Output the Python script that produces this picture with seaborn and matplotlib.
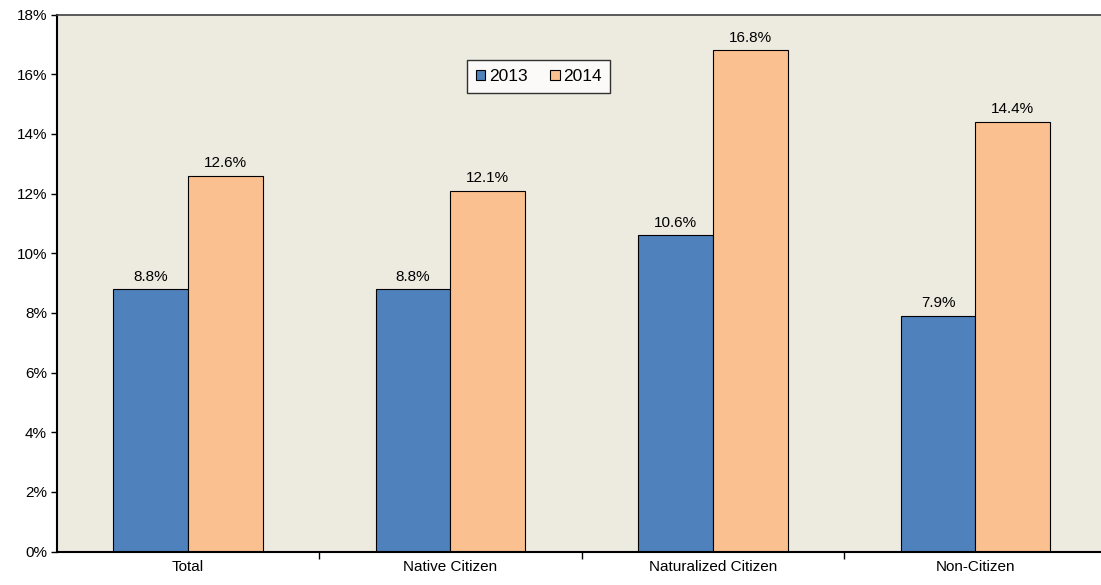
import matplotlib
matplotlib.use("Agg")
import matplotlib.pyplot as plt
import seaborn as sns
import pandas as pd
from matplotlib.ticker import FuncFormatter

# データ
categories = ["Total", "Native Citizen", "Naturalized Citizen", "Non-Citizen"]
years = ["2013", "2014"]
values_2013 = [8.8, 8.8, 10.6, 7.9]
values_2014 = [12.6, 12.1, 16.8, 14.4]

df = pd.DataFrame({
    "category": categories * 2,
    "year": ["2013"] * 4 + ["2014"] * 4,
    "value": values_2013 + values_2014,
})

sns.set_style("ticks")
plt.rcParams["font.family"] = ["Liberation Sans", "DejaVu Sans"]
plt.rcParams["text.color"] = "black"
plt.rcParams["xtick.color"] = "black"
plt.rcParams["ytick.color"] = "black"

fig = plt.figure(figsize=(11.01, 5.85), dpi=100)
# プロット領域は右端で切れている
ax = fig.add_axes([0.0515, 0.057, 0.9537, 0.918])
ax.set_facecolor("#EDEAE0")

sns.barplot(data=df, x="category", y="value", hue="year", hue_order=years,
            palette=["#4F81BD", "#FAC090"], width=0.57, ax=ax,
            edgecolor="black", linewidth=0.8, saturation=1)

for c in ax.containers:
    ax.bar_label(c, fmt="%.1f%%", padding=4, fontsize=11, color="black")

ax.set_ylim(0, 18)
ax.set_yticks(range(0, 19, 2))
ax.yaxis.set_major_formatter(FuncFormatter(lambda v, p: f"{v:.0f}%"))
ax.set_xlim(-0.5, 3.5)
ax.set_xticks([0.5, 1.5, 2.5], minor=False)
ax.set_xticks([0, 1, 2, 3], minor=True)
ax.set_xticklabels([], minor=False)
ax.set_xticklabels(categories, minor=True)
ax.tick_params(axis="x", which="major", length=5, direction="out", width=1)
ax.tick_params(axis="x", which="minor", length=0, labelsize=11, pad=6)
ax.tick_params(axis="y", length=4, direction="out", width=1, labelsize=11, pad=3)
ax.set_xlabel("")
ax.set_ylabel("")

for s in ["left", "bottom"]:
    ax.spines[s].set_color("black")
    ax.spines[s].set_linewidth(1.5)
ax.spines["top"].set_visible(True)
ax.spines["top"].set_color("#404040")
ax.spines["top"].set_linewidth(1.2)
ax.spines["right"].set_visible(False)

leg = ax.legend(loc="upper left", bbox_to_anchor=(0.391, 0.915), ncol=2,
                frameon=True, fancybox=False, edgecolor="black", fontsize=12.5,
                handlelength=0.55, handleheight=0.55, handletextpad=0.2,
                columnspacing=1.3, borderpad=0.5, borderaxespad=0)
leg.get_frame().set_linewidth(1)
leg.get_frame().set_facecolor("white")

plt.savefig("out.png", dpi=100)
